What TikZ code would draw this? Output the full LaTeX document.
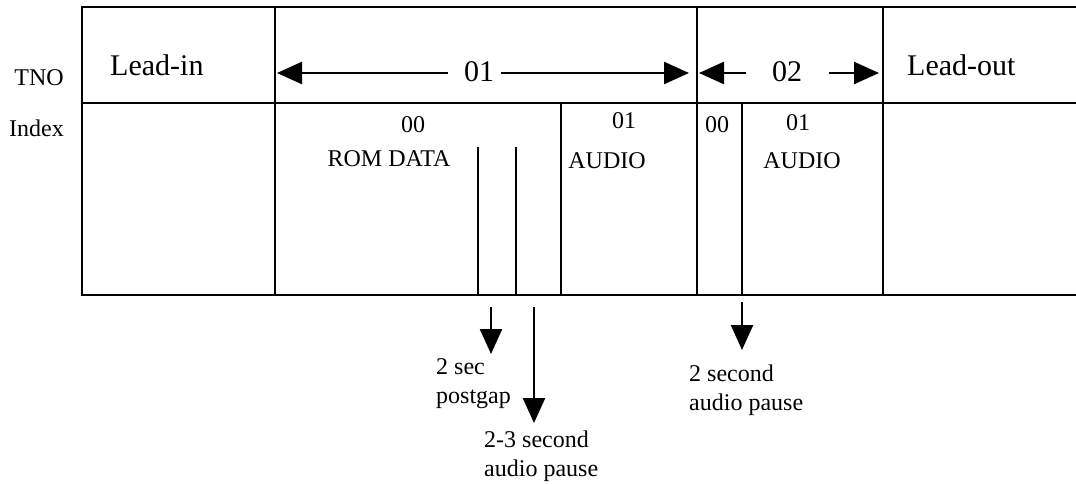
\documentclass[tikz,border=0pt]{standalone}
\usepackage{fontspec}
\setmainfont{Liberation Serif}
\usetikzlibrary{arrows.meta}
\begin{document}
\begin{tikzpicture}[x=1pt,y=-1pt,
  frame/.style={line width=2.6pt, line cap=rect},
  inner/.style={line width=2.2pt},
  big/.style={font=\fontsize{30}{34}\selectfont, inner sep=0pt},
  small/.style={font=\fontsize{24}{28.5}\selectfont, inner sep=0pt},
  tri/.style={-{Triangle[length=25pt,width=22pt]}, line width=2.4pt},
]
\useasboundingbox (0,0) rectangle (1076,484);
% table frame
\draw[frame] (82,7) -- (1076,7);
\draw[frame] (82,103) -- (1076,103);
\draw[frame] (82,295) -- (1076,295);
\draw[frame] (82,7) -- (82,295);
\draw[frame] (275,7) -- (275,295);
\draw[frame] (697,7) -- (697,295);
\draw[frame] (883,7) -- (883,295);
\draw[inner] (561,103) -- (561,295);
\draw[inner] (742,103) -- (742,295);
\draw[inner] (478,147) -- (478,295);
\draw[inner] (516,147) -- (516,295);
% row labels
\node[small, anchor=base east] (tno) at (64,86) {TNO};
\node[small, anchor=base east] (index) at (64,137) {Index};
% top row
\node[big, anchor=base west] (leadin) at (110,76) {Lead-in};
\node[big, anchor=base west] (leadout) at (907,76) {Lead-out};
\node[big, anchor=base] (t01) at (479,82) {01};
\node[big, anchor=base] (t02) at (787,82) {02};
\coordinate (a01l) at (448,73);
\coordinate (a01ltip) at (277,73);
\coordinate (a01r) at (501,73);
\coordinate (a01rtip) at (689,73);
\coordinate (a02l) at (746,73);
\coordinate (a02ltip) at (699,73);
\coordinate (a02r) at (829,73);
\coordinate (a02rtip) at (879,73);
\draw[tri] (a01l) -- (a01ltip);
\draw[tri] (a01r) -- (a01rtip);
\draw[tri] (a02l) -- (a02ltip);
\draw[tri] (a02r) -- (a02rtip);
% index row
\node[small, anchor=base] (i00a) at (413,133) {00};
\node[small, anchor=base] (rom) at (389,166) {ROM DATA};
\node[small, anchor=base] (i01a) at (624,129) {01};
\node[small, anchor=base] (aud1) at (607,168) {AUDIO};
\node[small, anchor=base] (i00b) at (717,132) {00};
\node[small, anchor=base] (i01b) at (798,131) {01};
\node[small, anchor=base] (aud2) at (802,168) {AUDIO};
% bottom annotations
\node[small, anchor=base west, align=left] (postgap) at (436,403) {2 sec\\postgap};
\node[small, anchor=base west, align=left] (pause23) at (484,476) {2-3 second\\audio pause};
\node[small, anchor=base west, align=left] (pause2) at (689,410) {2 second\\audio pause};
\coordinate (b1s) at (491,307);
\coordinate (b1e) at (491,354);
\coordinate (b2s) at (534,307);
\coordinate (b2e) at (534,423);
\coordinate (b3s) at (742,302);
\coordinate (b3e) at (742,350);
\draw[tri] (b1s) -- (b1e);
\draw[tri] (b2s) -- (b2e);
\draw[tri] (b3s) -- (b3e);
\end{tikzpicture}
\end{document}
